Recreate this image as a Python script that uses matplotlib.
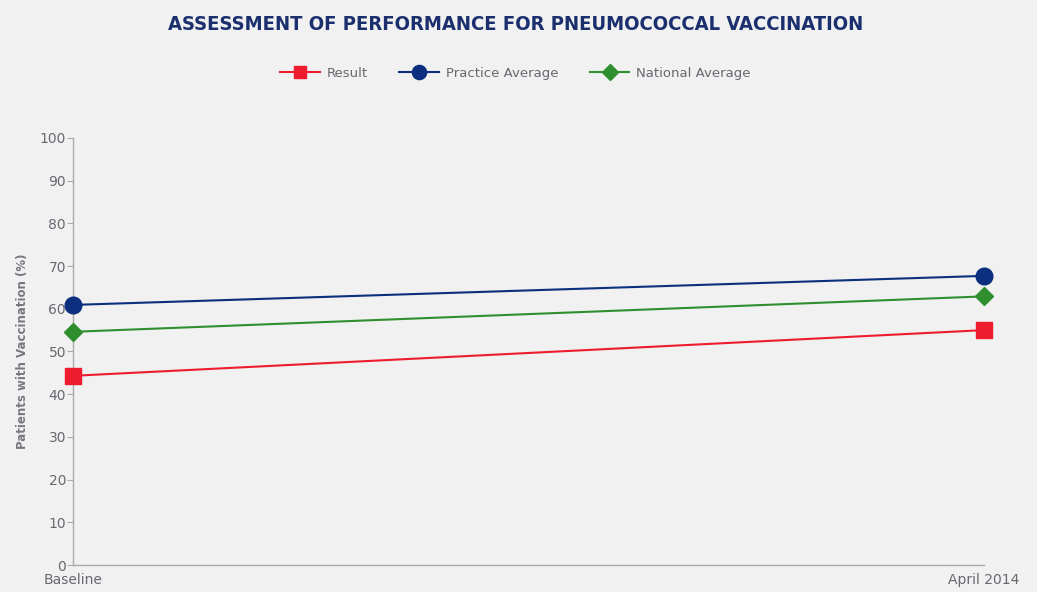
import matplotlib
matplotlib.use("Agg")
import matplotlib.pyplot as plt

categories = ["Baseline", "April 2014"]
result = [44.3, 55.0]
practice_avg = [60.9, 67.7]
national_avg = [54.6, 62.9]
yticks = list(range(0, 101, 10))

bg = "#f0f1f0"
fig = plt.figure(figsize=(10.37, 5.92), dpi=100, facecolor=bg)
ax = fig.add_axes([0.0704, 0.0456, 0.8786, 0.7214], facecolor=bg)

x = list(range(len(categories)))
ax.plot(x, result, color="#ee1c2e", lw=1.5, marker="s", ms=11, clip_on=False, label="Result", zorder=3)
ax.plot(x, practice_avg, color="#0b2f7e", lw=1.5, marker="o", ms=12, clip_on=False, label="Practice Average", zorder=3)
ax.plot(x, national_avg, color="#2f8f2f", lw=1.5, marker="D", ms=9, clip_on=False, label="National Average", zorder=3)

ax.set_xlim(0, 1)
ax.set_ylim(0, 100)
ax.set_yticks(yticks)
ax.set_xticks(x)
ax.set_xticklabels(categories)
ax.tick_params(axis="x", length=0, pad=6, labelsize=10, colors="#6b6670")
ax.tick_params(axis="y", length=4, width=0.8, color="#aaaaaa", pad=1, labelsize=10, labelcolor="#6b6670")
for s in ["top", "right"]:
    ax.spines[s].set_visible(False)
for s in ["left", "bottom"]:
    ax.spines[s].set_color("#aaaaaa")
    ax.spines[s].set_linewidth(1.0)

ax.set_ylabel("Patients with Vaccination (%)", fontsize=8.5, color="#7a7680", fontweight="bold", labelpad=8)

fig.text(0.497, 0.958, "ASSESSMENT OF PERFORMANCE FOR PNEUMOCOCCAL VACCINATION",
         ha="center", va="center", fontsize=14.5, fontweight="bold", color="#1b2f6e",
         family="DejaVu Sans", fontstretch="condensed")

leg = fig.legend(loc="center", bbox_to_anchor=(0.497, 0.876), ncol=3, frameon=False,
                 fontsize=9.5, handlelength=3, columnspacing=2.4, handletextpad=0.5, markerscale=0.85)
for t in leg.get_texts():
    t.set_color("#6b6670")

fig.savefig("out.png", dpi=100, facecolor=bg)
